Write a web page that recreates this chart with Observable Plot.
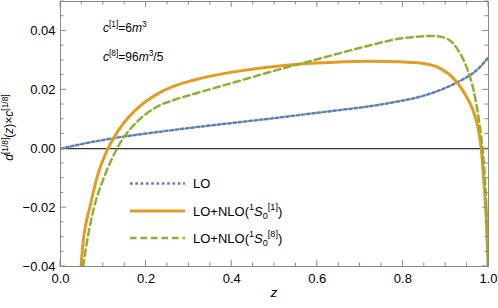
<!DOCTYPE html>
<html><head><meta charset="utf-8">
<script src="https://cdn.jsdelivr.net/npm/d3@7"></script>
<script src="https://cdn.jsdelivr.net/npm/@observablehq/plot@0.6"></script>
<style>
body{margin:0;background:#fff}
#chart{position:relative;width:498px;height:308px}
</style>
</head><body><div id="chart"></div>
<script>
// ---- data ----
const zLO = [0, 0.05, 0.117, 0.234, 0.327, 0.405, 0.483, 0.561, 0.639, 0.717, 0.794, 0.841, 0.872, 0.911, 0.950, 0.966, 1.0];
const vLO = [0, 0.0016, 0.0034, 0.0058, 0.0075, 0.0088, 0.0101, 0.0115, 0.0129, 0.0143, 0.0162, 0.0177, 0.0191, 0.0214, 0.0244, 0.0259, 0.031];

const zS1 = [0.048, 0.053, 0.060, 0.068, 0.087, 0.111, 0.144, 0.179, 0.234, 0.28, 0.327, 0.405, 0.483, 0.561, 0.639, 0.717, 0.794, 0.841, 0.888, 0.919, 0.942, 0.962, 0.974, 0.983, 0.989, 0.995, 0.999];
const vS1 = [-0.040, -0.0314, -0.025, -0.0202, -0.0089, 0.0, 0.008, 0.0136, 0.0192, 0.022, 0.0239, 0.0261, 0.0277, 0.0288, 0.0294, 0.0297, 0.0295, 0.0291, 0.0272, 0.0238, 0.0193, 0.0137, 0.0081, 0.0, -0.011, -0.0245, -0.040];

const zS8 = [0.053, 0.062, 0.078, 0.104, 0.132, 0.152, 0.171, 0.222, 0.27, 0.311, 0.405, 0.483, 0.561, 0.639, 0.717, 0.794, 0.841, 0.872, 0.904, 0.927, 0.950, 0.966, 0.977, 0.985, 0.992, 0.997, 1.0];
const vS8 = [-0.040, -0.0314, -0.0202, -0.0089, 0.0, 0.0047, 0.008, 0.014, 0.0168, 0.0186, 0.0225, 0.0258, 0.0289, 0.0319, 0.0349, 0.0374, 0.0381, 0.0383, 0.0373, 0.0339, 0.0272, 0.0193, 0.0103, 0.0013, -0.011, -0.0268, -0.040];

const xMajor = [0, 0.2, 0.4, 0.6, 0.8, 1.0];
const yMajor = [-0.04, -0.02, 0, 0.02, 0.04];
const xMinor = d3.range(0, 1.0001, 0.05).filter(v => !xMajor.some(m => Math.abs(m - v) < 1e-9));
const yMinor = d3.range(-0.04, 0.05001, 0.005).filter(v => !yMajor.some(m => Math.abs(m - v) < 1e-9));

const colors = ["#5E81B5", "#E19C24", "#8FB032"];

const rows = (zs, vs) => zs.map((z, i) => ({z, v: vs[i]}));

const FONT = "'Liberation Sans', Arial, sans-serif";

const plot = Plot.plot({
  width: 498, height: 308,
  marginLeft: 60, marginRight: 10, marginTop: 1, marginBottom: 42,
  x: {domain: [0, 1], label: null},
  y: {domain: [-0.04, 0.05], label: null},
  style: {fontFamily: FONT, fontSize: "13px", background: "#fff", color: "#000"},
  marks: [
    Plot.ruleY([0], {stroke: "#000", strokeWidth: 1}),
    Plot.line(rows(zLO, vLO), {x: "z", y: "v", stroke: colors[0], strokeWidth: 2.5, strokeDasharray: "2.7,2.6", curve: "monotone-x", clip: true}),
    Plot.line(rows(zS1, vS1), {x: "z", y: "v", stroke: colors[1], strokeWidth: 3, curve: "monotone-x", clip: true}),
    Plot.line(rows(zS8, vS8), {x: "z", y: "v", stroke: colors[2], strokeWidth: 2.5, strokeDasharray: "6.5,4", curve: "monotone-x", clip: true}),
    Plot.frame({stroke: "#888", strokeWidth: 1}),
    Plot.axisX({ticks: xMajor, tickFormat: d3.format(".1f"), tickSize: 0, tickPadding: 7, label: null}),
    Plot.axisY({ticks: yMajor, tickFormat: d3.format(".2f"), tickSize: 0, tickPadding: 5, label: null})
  ]
});

document.getElementById("chart").appendChild(plot);

const svg = d3.select(plot);
const sx = plot.scale("x"), sy = plot.scale("y");
const X0 = sx.apply(0), X1 = sx.apply(1), Y0 = sy.apply(-0.04), Y1 = sy.apply(0.05);
const tg = svg.append("g").attr("stroke", "#888").attr("stroke-width", 1);
function xt(v, len) {
  const px = sx.apply(v);
  tg.append("line").attr("x1", px).attr("x2", px).attr("y1", Y0).attr("y2", Y0 - len);
  tg.append("line").attr("x1", px).attr("x2", px).attr("y1", Y1).attr("y2", Y1 + len);
}
function yt(v, len) {
  const py = sy.apply(v);
  tg.append("line").attr("y1", py).attr("y2", py).attr("x1", X0).attr("x2", X0 + len);
  tg.append("line").attr("y1", py).attr("y2", py).attr("x1", X1).attr("x2", X1 - len);
}
xMajor.forEach(v => xt(v, 6)); xMinor.forEach(v => xt(v, 3.5));
yMajor.forEach(v => yt(v, 6)); yMinor.forEach(v => yt(v, 3.5));

function rich(t, parts, fs) {
  let cur = 0;
  for (const p of parts) {
    const target = p.sup ? -fs * 0.42 : p.sub ? fs * 0.25 : 0;
    const ts = t.append("tspan").text(p.t).attr("dy", target - cur);
    cur = target;
    if (p.sup || p.sub) ts.attr("font-size", fs * 0.7);
    if (p.it) ts.attr("font-style", "italic");
  }
}
const txt = svg.append("g").attr("font-family", FONT).attr("fill", "#000").attr("text-anchor", "start");

// y label
const yl = txt.append("text").attr("font-size", 12).attr("text-anchor", "middle")
  .attr("transform", `translate(13,${(Y0 + Y1) / 2 - 6}) rotate(-90)`);
rich(yl, [{t: "d", it: true}, {t: "[1/8]", sup: true}, {t: "("}, {t: "z", it: true}, {t: ")×"}, {t: "c", it: true}, {t: "[1/8]", sup: true}], 12);

// x label
txt.append("text").attr("font-size", 13).attr("font-style", "italic").attr("text-anchor", "middle")
  .attr("x", (X0 + X1) / 2).attr("y", 297).text("z");

// annotations
const a1 = txt.append("text").attr("font-size", 12).attr("x", 103).attr("y", 32);
rich(a1, [{t: "c", it: true}, {t: "[1]", sup: true}, {t: "=6"}, {t: "m", it: true}, {t: "3", sup: true}], 12);
const a2 = txt.append("text").attr("font-size", 12).attr("x", 103).attr("y", 61);
rich(a2, [{t: "c", it: true}, {t: "[8]", sup: true}, {t: "=96"}, {t: "m", it: true}, {t: "3", sup: true}, {t: "/5"}], 12);

// legend
const legY = [183.5, 211, 238];
const dashes = ["2.7,2.6", null, "6.5,4"];
const widths = [2.5, 3, 2.5];
const labels = [
  [{t: "LO"}],
  [{t: "LO+NLO("}, {t: "1", sup: true}, {t: "S", it: true}, {t: "0", sub: true}, {t: "[1]", sup: true}, {t: ")"}],
  [{t: "LO+NLO("}, {t: "1", sup: true}, {t: "S", it: true}, {t: "0", sub: true}, {t: "[8]", sup: true}, {t: ")"}]
];
legY.forEach((ly, i) => {
  const l = svg.append("line").attr("x1", 130).attr("x2", 185).attr("y1", ly).attr("y2", ly)
    .attr("stroke", colors[i]).attr("stroke-width", widths[i]);
  if (dashes[i]) l.attr("stroke-dasharray", dashes[i]);
  const t = txt.append("text").attr("font-size", 13).attr("x", 193).attr("y", ly + 4.7);
  rich(t, labels[i], 13);
});
</script>
</body></html>
